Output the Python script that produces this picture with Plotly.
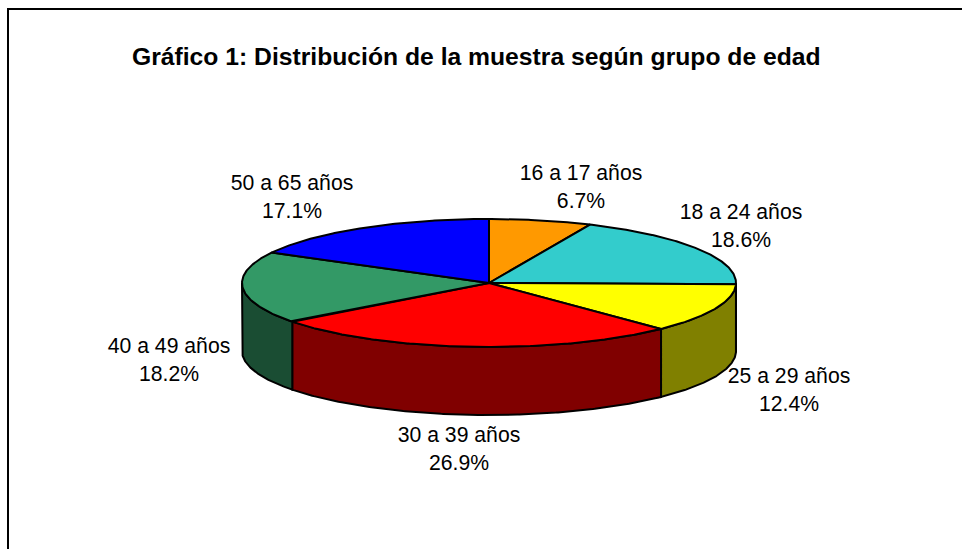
import numpy as np
import plotly.graph_objects as go

categories = ["16 a 17 años", "18 a 24 años", "25 a 29 años", "30 a 39 años", "40 a 49 años", "50 a 65 años"]
values = [6.7, 18.6, 12.4, 26.9, 18.2, 17.1]
top_colors = ["#FF9900", "#33CCCC", "#FFFF00", "#FF0000", "#339966", "#0000FF"]
side_colors = ["#804D00", "#1A6666", "#808000", "#800000", "#1A4D33", "#000080"]
label_x = [581, 741, 789, 459, 169, 292]
label_y = [175, 214, 378, 437, 348, 185]

CX, CY, RX, RY, DEPTH = 489, 283, 247, 64, 68
EDGE = dict(color="black", width=2)


def rim(a0, a1, dy=0):
    t = np.radians(np.linspace(a0, a1, max(int(abs(a1 - a0)) * 2, 2)))
    return CX + RX * np.sin(t), CY + dy - RY * np.cos(t)


fractions = np.array(values) / sum(values)
ends = np.cumsum(fractions) * 360
starts = ends - fractions * 360

fig = go.Figure()
# walls of the slices facing the viewer
for a0, a1, color in zip(starts, ends, side_colors):
    lo, hi = max(a0, 90), min(a1, 270)
    if hi <= lo:
        continue
    x0, y0 = rim(lo, hi)
    x1, y1 = rim(hi, lo, DEPTH)
    fig.add_trace(go.Scatter(x=np.r_[x0, x1, x0[0]], y=np.r_[y0, y1, y0[0]], mode="lines",
                             fill="toself", fillcolor=color, line=EDGE, hoverinfo="skip"))
# top faces
for a0, a1, color in zip(starts, ends, top_colors):
    x0, y0 = rim(a0, a1)
    fig.add_trace(go.Scatter(x=np.r_[CX, x0, CX], y=np.r_[CY, y0, CY], mode="lines",
                             fill="toself", fillcolor=color, line=EDGE, hoverinfo="skip"))

font = dict(family="Liberation Sans, Arial, sans-serif", size=21.2, color="black")
fig.add_trace(go.Scatter(x=label_x, y=label_y, mode="text", text=categories,
                         textposition="middle center", textfont=font, hoverinfo="skip"))
fig.add_trace(go.Scatter(x=label_x, y=[y + 28 for y in label_y], mode="text",
                         text=[f"{v}%" for v in values],
                         textposition="middle center", textfont=font, hoverinfo="skip"))

fig.add_annotation(x=476, y=56, xref="x", yref="y", showarrow=False,
                   text="<b>Gráfico 1: Distribución de la muestra según grupo de edad</b>",
                   font=dict(family="Liberation Sans, Arial, sans-serif", size=24.7, color="black"))

fig.add_shape(type="rect", x0=8, y0=9, x1=1000, y1=600, xref="x", yref="y",
              line=dict(color="black", width=2), fillcolor="rgba(0,0,0,0)")

fig.update_layout(
    width=962, height=549, margin=dict(l=0, r=0, t=0, b=0), showlegend=False,
    paper_bgcolor="white", plot_bgcolor="white",
    xaxis=dict(range=[0, 962], visible=False, fixedrange=True),
    yaxis=dict(range=[549, 0], visible=False, fixedrange=True),
)
fig.write_html("out.html", config={"displayModeBar": False},
               post_script="document.body.style.margin='0';document.body.style.overflow='hidden';window.dispatchEvent(new Event('resize'));")
